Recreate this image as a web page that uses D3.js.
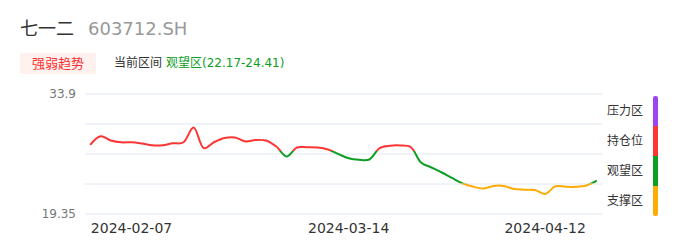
<!DOCTYPE html>
<html>
<head>
<meta charset="utf-8">
<script src="https://cdn.jsdelivr.net/npm/d3@7"></script>
<style>
  body { margin: 0; background: #fff; }
  svg text { font-family: "DejaVu Sans", "Noto Sans CJK SC", sans-serif; }
</style>
</head>
<body>
<div id="chart"></div>
<script>
// data
var dates = ["2024-02-01","2024-02-02","2024-02-05","2024-02-06","2024-02-07","2024-02-08",
  "2024-02-18","2024-02-19","2024-02-20","2024-02-21","2024-02-22","2024-02-23","2024-02-26",
  "2024-02-27","2024-02-28","2024-02-29","2024-03-01","2024-03-04","2024-03-05","2024-03-06",
  "2024-03-07","2024-03-08","2024-03-11","2024-03-12","2024-03-13","2024-03-14","2024-03-15",
  "2024-03-18","2024-03-19","2024-03-20","2024-03-21","2024-03-22","2024-03-25","2024-03-26",
  "2024-03-27","2024-03-28","2024-03-29","2024-04-01","2024-04-02","2024-04-03","2024-04-08",
  "2024-04-09","2024-04-10","2024-04-11","2024-04-12","2024-04-15","2024-04-16","2024-04-17",
  "2024-04-18","2024-04-19"];
var values = [27.72, 28.77, 28.26, 28.04, 28.06, 27.90, 27.68, 27.69, 27.92, 28.02,
  29.84, 27.32, 28.08, 28.57, 28.63, 28.14, 28.32, 28.26, 27.53, 26.32,
  27.41, 27.44, 27.41, 27.17, 26.63, 26.10, 25.92, 25.96, 27.35, 27.63,
  27.66, 27.47, 25.59, 24.99, 24.38, 23.72, 23.07, 22.68, 22.44, 22.75,
  22.75, 22.38, 22.30, 22.26, 21.78, 22.71, 22.65, 22.65, 22.81, 23.41];
var xTickLabels = ["2024-02-07", "2024-03-14", "2024-04-12"];
var yMin = 19.35, yMax = 33.9;
var yTickLabels = ["33.9", "19.35"];

var zoneNames = ["压力区", "持仓位", "观望区", "支撑区"];
var zoneColors = ["#9d45f2", "#fd3535", "#0d9e24", "#fdab05"];
var zoneFloor = [32.0, 27.0, 23.05, yMin - 5];

var stockName = "七一二", stockCode = "603712.SH";
var currentZone = "观望区(22.17-24.41)";

var W = 686, H = 247;
var margin = { top: 94, right: 84, bottom: 33, left: 85 };

var svg = d3.select("#chart").append("svg")
  .attr("width", W).attr("height", H);

// header
svg.append("text").attr("x", 20).attr("y", 35)
  .attr("font-size", 18).attr("fill", "#333").text(stockName);
svg.append("text").attr("x", 88).attr("y", 35)
  .attr("font-size", 18).attr("fill", "#999").text(stockCode);

svg.append("rect").attr("x", 20).attr("y", 53).attr("width", 76).attr("height", 21)
  .attr("fill", "#fff1ee");
svg.append("text").attr("x", 58).attr("y", 68).attr("text-anchor", "middle")
  .attr("font-size", 13).attr("fill", "#fb2f2f").text("强弱趋势");
svg.append("text").attr("x", 114).attr("y", 67)
  .attr("font-size", 12).attr("fill", "#333").text("当前区间");
svg.append("text").attr("x", 166).attr("y", 67)
  .attr("font-size", 12).attr("fill", "#0d9e24").text(currentZone);

// scales
var x = d3.scalePoint()
  .domain(dates)
  .range([margin.left, W - margin.right])
  .padding(0.5);

var y = d3.scaleLinear()
  .domain([yMin, yMax])
  .range([H - margin.bottom, margin.top]);

// grid lines
var gridVals = d3.range(5).map(function(i) { return yMin + (yMax - yMin) * i / 4; });
svg.append("g").selectAll("line")
  .data(gridVals)
  .enter().append("line")
  .attr("x1", margin.left).attr("x2", W - margin.right)
  .attr("y1", function(d) { return y(d); })
  .attr("y2", function(d) { return y(d); })
  .attr("stroke", "#e0e6f1").attr("stroke-width", 1);

// y labels
svg.append("g").selectAll("text")
  .data(yTickLabels)
  .enter().append("text")
  .attr("x", 76)
  .attr("y", function(d) { return y(+d); })
  .attr("dy", "0.35em")
  .attr("text-anchor", "end")
  .attr("font-size", 12).attr("fill", "#777")
  .text(function(d) { return d; });

// x labels
svg.append("g").selectAll("text")
  .data(xTickLabels)
  .enter().append("text")
  .attr("x", function(d) { return x(d); })
  .attr("y", 233)
  .attr("text-anchor", "middle")
  .attr("font-size", 14).attr("fill", "#333")
  .text(function(d) { return d; });

// line, coloured by zone through clip bands
var line = d3.line()
  .x(function(d, i) { return x(dates[i]); })
  .y(function(d) { return y(d); })
  .curve(d3.curveCatmullRom.alpha(0.5));

var defs = svg.append("defs");
zoneNames.forEach(function(name, i) {
  var top = i === 0 ? 0 : y(zoneFloor[i - 1]);
  var bottom = y(zoneFloor[i]);
  defs.append("clipPath").attr("id", "zone" + i)
    .append("rect")
    .attr("x", 0).attr("width", W)
    .attr("y", top).attr("height", Math.max(0, bottom - top));
  svg.append("path")
    .datum(values)
    .attr("clip-path", "url(#zone" + i + ")")
    .attr("fill", "none")
    .attr("stroke", zoneColors[i])
    .attr("stroke-width", 2)
    .attr("stroke-linejoin", "round")
    .attr("d", line);
});

// legend on the right
var legendTop = 96, legendStep = 30;
var legend = svg.append("g");
legend.selectAll("text")
  .data(zoneNames)
  .enter().append("text")
  .attr("x", 607)
  .attr("y", function(d, i) { return legendTop + legendStep * i + 15; })
  .attr("dy", "0.35em")
  .attr("font-size", 12).attr("fill", "#333")
  .text(function(d) { return d; });

defs.append("clipPath").attr("id", "barclip")
  .append("rect")
  .attr("x", 653).attr("y", legendTop).attr("width", 5)
  .attr("height", legendStep * zoneNames.length)
  .attr("rx", 2).attr("ry", 2);
legend.append("g").attr("clip-path", "url(#barclip)")
  .selectAll("rect")
  .data(zoneColors)
  .enter().append("rect")
  .attr("x", 653).attr("width", 5)
  .attr("y", function(d, i) { return legendTop + legendStep * i; })
  .attr("height", legendStep)
  .attr("fill", function(d) { return d; });
</script>
</body>
</html>
